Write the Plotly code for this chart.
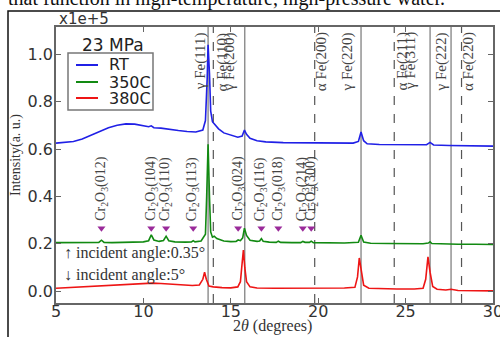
import plotly.graph_objects as go

# ---------------- data (intensity in units of 1e5) ----------------
rt_x = [5.0, 5.5, 6.0, 6.5, 7.0, 7.5, 8.0, 8.5, 9.0, 9.5, 10.0, 10.3, 10.45, 10.6, 11.0, 11.5,
        12.0, 12.5, 13.0, 13.4, 13.55, 13.65, 13.7, 13.78, 13.85, 13.95, 14.1, 14.3, 14.6,
        15.0, 15.4, 15.65, 15.78, 15.9, 16.1, 16.5, 17.0, 18.0, 19.0, 20.0, 21.0, 22.0, 22.3,
        22.45, 22.6, 22.8, 23.5, 24.5, 25.5, 26.2, 26.4, 26.6, 27.5, 28.5, 29.5, 30.0]
rt_y = [0.625, 0.628, 0.632, 0.642, 0.658, 0.675, 0.690, 0.700, 0.706, 0.705, 0.698, 0.694,
        0.698, 0.690, 0.688, 0.682, 0.678, 0.674, 0.672, 0.680, 0.720, 0.900, 1.040, 0.920,
        0.760, 0.715, 0.700, 0.685, 0.668, 0.658, 0.650, 0.655, 0.680, 0.662, 0.645, 0.635,
        0.630, 0.627, 0.626, 0.625, 0.624, 0.625, 0.632, 0.672, 0.635, 0.622, 0.619, 0.618,
        0.617, 0.618, 0.628, 0.617, 0.615, 0.614, 0.613, 0.612]

c350_x = [5.0, 6.0, 7.0, 7.45, 7.6, 7.75, 8.2, 9.0, 10.0, 10.3, 10.45, 10.6, 10.9, 11.15, 11.3,
          11.45, 11.8, 12.4, 12.75, 12.85, 12.95, 13.3, 13.55, 13.62, 13.7, 13.78, 13.85, 13.95,
          14.05, 14.2, 14.6, 15.0, 15.3, 15.42, 15.55, 15.68, 15.78, 15.9, 16.1, 16.5, 16.65,
          16.75, 16.85, 17.2, 17.6, 17.72, 17.85, 18.5, 19.0, 19.12, 19.25, 19.5, 19.6, 19.72,
          20.5, 21.5, 22.3, 22.45, 22.6, 23.0, 24.0, 25.0, 26.0, 26.3, 26.4, 26.5, 27.0, 28.0,
          29.0, 30.0]
c350_y = [0.205, 0.205, 0.205, 0.206, 0.215, 0.206, 0.205, 0.206, 0.208, 0.213, 0.238, 0.216,
          0.210, 0.214, 0.232, 0.213, 0.208, 0.207, 0.208, 0.213, 0.208, 0.212, 0.240, 0.400,
          0.620, 0.400, 0.250, 0.228, 0.232, 0.222, 0.212, 0.209, 0.210, 0.216, 0.213, 0.225,
          0.266, 0.235, 0.215, 0.210, 0.212, 0.222, 0.211, 0.207, 0.206, 0.211, 0.206, 0.205,
          0.205, 0.210, 0.206, 0.206, 0.211, 0.205, 0.204, 0.203, 0.206, 0.236, 0.207, 0.202,
          0.201, 0.200, 0.200, 0.203, 0.208, 0.201, 0.199, 0.198, 0.198, 0.197]

c380_x = [5.0, 6.0, 7.0, 8.0, 9.0, 10.0, 10.5, 11.0, 12.0, 12.8, 13.2, 13.4, 13.5, 13.6, 13.75,
          14.0, 14.5, 15.0, 15.4, 15.55, 15.65, 15.72, 15.8, 15.9, 16.1, 16.5, 17.5, 19.0, 20.5,
          21.5, 22.1, 22.25, 22.35, 22.45, 22.6, 22.9, 23.5, 24.5, 25.5, 26.0, 26.15, 26.28,
          26.4, 26.55, 26.8, 27.3, 27.6, 28.0, 29.0, 30.0]
c380_y = [0.012, 0.016, 0.020, 0.024, 0.028, 0.032, 0.034, 0.032, 0.027, 0.024, 0.026, 0.050,
          0.080, 0.050, 0.022, 0.018, 0.015, 0.014, 0.018, 0.040, 0.120, 0.173, 0.100, 0.040,
          0.018, 0.013, 0.012, 0.012, 0.012, 0.013, 0.016, 0.060, 0.140, 0.090, 0.025, 0.012,
          0.010, 0.009, 0.009, 0.012, 0.050, 0.145, 0.080, 0.020, 0.008, 0.005, 0.008, 0.003,
          0.002, 0.001]

series_names = ["RT", "350C", "380C"]

fe_x = [13.7, 14.0, 15.8, 19.8, 22.45, 24.35, 26.4, 27.6, 28.2]
fe_labels = ["γ Fe(111)", "α Fe(110)", "γ Fe(200)", "α Fe(200)", "γ Fe(220)",
             "α Fe(211)", "γ Fe(311)", "γ Fe(222)", "α Fe(220)"]

cr_x = [7.6, 10.45, 11.3, 12.85, 15.42, 16.75, 17.72, 19.12, 19.6]
cr_hkl = ["012", "104", "110", "113", "024", "116", "018", "214", "300"]
cr_marker_y = [0.265] * len(cr_x)

x_ticks = [5, 10, 15, 20, 25, 30]
y_ticks = [0.0, 0.2, 0.4, 0.6, 0.8, 1.0]

# ---------------- layout helpers ----------------
W, H = 500, 337
ML, MR, MT, MB = 56, 7, 27, 34
PW, PH = W - ML - MR, H - MT - MB


def px(p):
    return (p - ML) / PW


def py(p):
    return (H - MB - p) / PH


SERIF = "Liberation Serif, Times New Roman, serif"
SANS = "DejaVu Sans, sans-serif"
colors = ["#2020e6", "#128a12", "#ee1515"]

fig = go.Figure()
for xs, ys, name, col in zip([rt_x, c350_x, c380_x], [rt_y, c350_y, c380_y], series_names, colors):
    fig.add_trace(go.Scatter(x=xs, y=ys, mode="lines", name=name,
                             line=dict(color=col, width=1.6), showlegend=False))

fig.add_trace(go.Scatter(x=cr_x, y=cr_marker_y, mode="markers", showlegend=False,
                         marker=dict(symbol="triangle-down", size=7, color="#9a2a9a")))

shapes = []
annotations = []

# Fe reference lines and labels
fe_label_offset = [-0.45, 0.55, -0.85, 0.4, -0.75, 0.45, -1.15, -0.52, 0.4]
for xv, lab, off in zip(fe_x, fe_labels, fe_label_offset):
    alpha = lab.startswith("α")
    shapes.append(dict(type="line", xref="x", yref="paper", x0=xv, x1=xv, y0=0, y1=1,
                       line=dict(color="#555" if alpha else "#777", width=1.2,
                                 dash="dash" if alpha else "solid"), layer="below"))
    annotations.append(dict(x=xv + off, y=py(30), xref="x", yref="paper", text=lab,
                            textangle=-90, showarrow=False, xanchor="center", yanchor="top",
                            font=dict(family=SERIF, size=15, color="#444")))

# Cr2O3 labels
for xv, hkl in zip(cr_x, cr_hkl):
    annotations.append(dict(x=xv, y=0.288, xref="x", yref="y",
                            text="Cr<sub>2</sub>O<sub>3</sub>(" + hkl + ")",
                            textangle=-90, showarrow=False, xanchor="center", yanchor="bottom",
                            font=dict(family=SERIF, size=14, color="#444")))

# incident angle notes
annotations.append(dict(x=5.35, y=0.16, xref="x", yref="y", text="↑ incident angle:0.35°",
                        showarrow=False, xanchor="left", yanchor="middle",
                        font=dict(family=SERIF, size=16, color="#333")))
annotations.append(dict(x=5.35, y=0.068, xref="x", yref="y", text="↓ incident angle:5°",
                        showarrow=False, xanchor="left", yanchor="middle",
                        font=dict(family=SERIF, size=16, color="#333")))

# offset text
annotations.append(dict(x=px(57), y=py(19), xref="paper", yref="paper", text="x1e+5",
                        showarrow=False, xanchor="left", yanchor="middle",
                        font=dict(family=SANS, size=15, color="#333")))

# axis titles
annotations.append(dict(x=px(16), y=py(155), xref="paper", yref="paper", text="Intensity(a. u.)",
                        textangle=-90, showarrow=False, xanchor="center", yanchor="middle",
                        font=dict(family=SERIF, size=14, color="#333")))
annotations.append(dict(x=px(272), y=py(326), xref="paper", yref="paper",
                        text="2<i>θ</i> (degrees)", showarrow=False,
                        xanchor="center", yanchor="middle",
                        font=dict(family=SERIF, size=16, color="#333")))

# page text & frame (scanned page context)
annotations.append(dict(x=px(6), y=py(12), xref="paper", yref="paper",
                        text="that function in high-temperature, high-pressure water.",
                        showarrow=False, xanchor="left", yanchor="bottom",
                        font=dict(family=SERIF, size=20, color="#111")))
shapes.append(dict(type="path", xref="paper", yref="paper",
                   path=f"M {px(8)} {py(340)} L {px(8)} {py(11)} L {px(505)} {py(11)}",
                   line=dict(color="#111", width=1.5)))

# manual legend
shapes.append(dict(type="rect", xref="paper", yref="paper", x0=px(68), x1=px(153),
                   y0=py(110), y1=py(53), line=dict(color="#777", width=1.5),
                   fillcolor="white", layer="above"))
for i, (name, col) in enumerate(zip(series_names, colors)):
    yy = [65, 82, 98][i]
    shapes.append(dict(type="line", xref="paper", yref="paper", x0=px(76), x1=px(98),
                       y0=py(yy), y1=py(yy), line=dict(color=col, width=2), layer="above"))
    annotations.append(dict(x=px(107), y=py(yy), xref="paper", yref="paper", text=name,
                            showarrow=False, xanchor="left", yanchor="middle",
                            font=dict(family=SANS, size=16, color="#222")))
annotations.append(dict(x=px(113), y=py(45), xref="paper", yref="paper", text="23 MPa",
                        showarrow=False, xanchor="center", yanchor="middle",
                        font=dict(family=SANS, size=17, color="#222")))

axis_common = dict(showgrid=False, zeroline=False, showline=True, mirror="ticks",
                   linecolor="#666", linewidth=1.5, ticks="inside", ticklen=5,
                   tickcolor="#666", tickwidth=1, ticklabeloverflow="allow", automargin=False,
                   tickfont=dict(family=SANS, size=16, color="#333"))

fig.update_layout(
    width=W, height=H,
    margin=dict(l=ML, r=MR, t=MT, b=MB, autoexpand=False),
    paper_bgcolor="white", plot_bgcolor="white",
    xaxis=dict(range=[5, 30], tickvals=x_ticks, ticktext=[str(t) for t in x_ticks],
               ticklabelstandoff=-7, **axis_common),
    yaxis=dict(range=[-0.05, 1.115], tickvals=y_ticks, ticktext=[f"{t:.1f}" for t in y_ticks],
               ticklabelstandoff=-2, **axis_common),
    shapes=shapes,
    annotations=annotations,
    showlegend=False,
)

fig.write_html("out.html", config={"displayModeBar": False},
               post_script="document.body.style.margin='0';document.body.style.overflow='hidden';")
